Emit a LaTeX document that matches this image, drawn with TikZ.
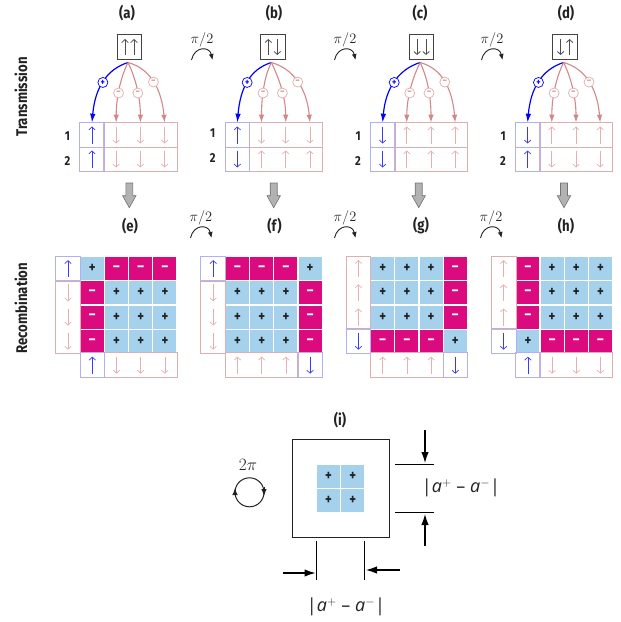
\documentclass[tikz,border=0pt]{standalone}
\usepackage{fontspec}
\setmainfont{Fira Sans}
\newfontfamily\lab[FakeStretch=0.85]{Fira Sans}
\newfontfamily\dimf{Open Sans}
\usetikzlibrary{arrows.meta}
\definecolor{cellblue}{HTML}{A6D1EC}
\definecolor{cellmag}{HTML}{DB0A7E}
\definecolor{redline}{HTML}{DFAEAE}
\definecolor{redarrow}{HTML}{E6B0B0}
\definecolor{redcurve}{HTML}{D28888}
\definecolor{blueline}{HTML}{B0B0F4}
\definecolor{bluearrow}{HTML}{3A3AF5}
\definecolor{ink}{HTML}{222222}
\tikzset{
 x=1pt,y=-1pt,
 cellnode/.style={inner sep=0pt,minimum width=24.3pt,minimum height=24.3pt},
 tilepos/.style={inner sep=0pt,minimum width=23pt,minimum height=23pt,fill=cellblue,text=ink,font=\lab\bfseries\fontsize{15}{15}\selectfont},
 tileneg/.style={inner sep=0pt,minimum width=23pt,minimum height=23pt,fill=cellmag,text=white,font=\lab\bfseries\fontsize{15}{15}\selectfont},
 panel/.style={font=\lab\bfseries\fontsize{15.5}{17}\selectfont,text=ink,inner sep=0pt},
 rowlab/.style={font=\lab\bfseries\fontsize{13}{14}\selectfont,text=ink,inner sep=0pt},
 sidelab/.style={font=\lab\bfseries\fontsize{15.5}{17}\selectfont,text=ink,inner sep=0pt,rotate=90},
 srcbox/.style={draw=ink!85,line width=0.9pt,minimum width=24.5pt,minimum height=24.5pt,inner sep=0pt},
 redbox/.style={draw=redline,line width=0.9pt},
 bluebox/.style={draw=blueline,line width=0.9pt},
 aup/.style={{Straight Barb[length=3pt,width=6.5pt]}-,line width=0.7pt},
 adn/.style={-{Straight Barb[length=3pt,width=6.5pt]},line width=0.7pt},
 redarr/.style={draw=redarrow},
 bluearr/.style={draw=bluearrow},
 blackarr/.style={draw=ink!80},
 bluecurve/.style={draw=blue,line width=1.2pt,-{Latex[length=9pt,width=5.5pt]}},
 redcurv/.style={draw=redcurve,line width=1.1pt,-{Latex[length=8pt,width=5.5pt]}},
 bubred/.style={circle,draw=redline,fill=white,line width=0.7pt,minimum size=10pt,inner sep=0pt,text=redcurve,font=\lab\bfseries\fontsize{9}{9}\selectfont},
 bubblue/.style={circle,draw=blue,fill=white,line width=0.7pt,minimum size=10pt,inner sep=0pt,text=blue,font=\lab\bfseries\fontsize{9.5}{9.5}\selectfont},
 turn/.style={draw=ink,line width=0.9pt,-{Latex[length=6pt,width=5pt]}},
 pilabel/.style={inner sep=0pt,text=ink,font=\fontsize{15}{16}\selectfont},
 grayarrow/.style={draw=black!55,fill=black!30,line width=0.6pt},
 dimline/.style={draw=black,line width=0.8pt},
 dimarrow/.style={draw=black,line width=1.2pt,-{Latex[length=11pt,width=7.5pt]}},
 dimlab/.style={inner sep=0pt,text=ink,font=\dimf\fontsize{18}{20}\selectfont},
}
\newcommand\cellarrow[3]{\draw[#2,#3] ([yshift=8.5pt]#1.center) -- ([yshift=-8.5pt]#1.center);}
% name, x offset, apex/box offset, row label y1, y2, box arrows(2), blue1, red1, blue2
\newcommand\transpanel[9]{%
 \begin{scope}[shift={(#2,0)}]
  \foreach \r in {1,2}\foreach \c in {1,2,3,4}
    \node[cellnode] (#1-\r-\c) at ({92+24.2*(\c-1)},{135+24*(\r-1)}) {};
  \node[rowlab] (#1-l1) at (67.5,#4) {1};
  \node[rowlab] (#1-l2) at (67.5,#5) {2};
  \draw[redbox] (#1-1-2.north west) rectangle (#1-2-4.south east);
  \draw[redbox] (#1-1-2.south west) -- (#1-1-4.south east);
  \draw[bluebox] (#1-1-1.north west) rectangle (#1-2-1.south east);
  \draw[bluebox] (#1-1-1.south west) -- (#1-1-1.south east);
  \cellarrow{#1-1-1}{#7}{bluearr}
  \cellarrow{#1-2-1}{#9}{bluearr}
  \foreach \c in {2,3,4}{\cellarrow{#1-1-\c}{#8}{redarr}}
  \transpaneltwo{#1}{#3}{#6}
 \end{scope}}
\newcommand\transpaneltwo[3]{%
  \begin{scope}[shift={(#2,0)}]
   \node[srcbox] (#1-src) at (129.5,47) {};
   \coordinate (#1-apex) at (128,62.5);
   \transboxarrows{#1}#3
  \end{scope}
  \draw[bluecurve] (#1-apex) .. controls +(-22,7) and +(3,-34) .. node[pos=0.5,bubblue] (#1-b1) {+} (#1-1-1.north);
  \draw[redcurv] (#1-apex) .. controls +(-7,14) and +(0,-26) .. node[pos=0.58,bubred] (#1-b2) {–} (#1-1-2.north);
  \draw[redcurv] (#1-apex) .. controls +(7,14) and +(0,-26) .. node[pos=0.58,bubred] (#1-b3) {–} (#1-1-3.north);
  \draw[redcurv] (#1-apex) .. controls +(22,6) and +(-3,-34) .. node[pos=0.5,bubred] (#1-b4) {–} (#1-1-4.north);
}
\newcommand\transboxarrows[3]{%
  \draw[#2,blackarr,line width=0.8pt] ([xshift=-4.5pt,yshift=8pt]#1-src.center) -- ([xshift=-4.5pt,yshift=-8pt]#1-src.center);
  \draw[#3,blackarr,line width=0.8pt] ([xshift=4.5pt,yshift=8pt]#1-src.center) -- ([xshift=4.5pt,yshift=-8pt]#1-src.center);
}
% name, x offset, blue row, blue column
\newcommand\recomb[4]{%
 \begin{scope}[shift={(#2,0)}]
  \foreach \r in {1,2,3,4}\foreach \c in {1,2,3,4}{
    \ifnum\r=#3 \def\rr{1}\else\def\rr{0}\fi
    \ifnum\c=#4 \def\cc{1}\else\def\cc{0}\fi
    \ifnum\rr=\cc
      \node[tilepos] (#1-\r-\c) at ({92.3+24.2*(\c-1)},{268.6+24.2*(\r-1)}) {+};
    \else
      \node[tileneg] (#1-\r-\c) at ({92.3+24.2*(\c-1)},{268.6+24.2*(\r-1)}) {–};
    \fi
  }
  \foreach \r in {1,2,3,4}{\node[cellnode] (#1-L\r) at (68,{268.6+24.2*(\r-1)}) {};}
  \foreach \c in {1,2,3,4}{\node[cellnode] (#1-B\c) at ({92.3+24.2*(\c-1)},365.2) {};}
 \end{scope}}
\begin{document}
\begin{tikzpicture}
\useasboundingbox (0,0) rectangle (621,622);
% panel labels
\foreach \n/\t/\px/\py in {pa/(a)/127/13,pb/(b)/274/13,pc/(c)/420/13,pd/(d)/566/13,pe/(e)/130/226,pf/(f)/274.5/226,pg/(g)/421/226,ph/(h)/566/226,pi/(i)/340/420}
  \node[panel] (\n) at (\px,\py) {\t};
\node[sidelab] (sideT) at (21,97) {Transmission};
\node[sidelab] (sideR) at (21,308) {Recombination};
% transmission
\transpanel{a}{0}{0}{136}{161}{{aup}{aup}}{aup}{adn}{aup}
\foreach \c in {2,3,4}{\cellarrow{a-2-\c}{adn}{redarr}}
\transpanel{b}{145.3}{-2}{133}{158}{{aup}{adn}}{aup}{adn}{adn}
\foreach \c in {2,3,4}{\cellarrow{b-2-\c}{aup}{redarr}}
\transpanel{c}{290.6}{1.5}{136}{161}{{adn}{adn}}{adn}{aup}{adn}
\foreach \c in {2,3,4}{\cellarrow{c-2-\c}{aup}{redarr}}
\transpanel{d}{435.6}{0}{136}{161}{{adn}{aup}}{adn}{aup}{aup}
\foreach \c in {2,3,4}{\cellarrow{d-2-\c}{adn}{redarr}}
% turning arrows and pi/2 labels
\foreach \n/\x/\y in {t1/202/40,t2/345/40,t3/492/40,t4/201/218,t5/345/218,t6/491/218}{
  \node[pilabel] (\n) at (\x,\y) {$\pi/2$};
  \coordinate (\n-s) at (\x-10.5,\y+20);
  \coordinate (\n-e) at (\x+10.5,\y+20);
  \draw[turn] (\n-s) .. controls +(3,-14) and +(-3,-14) .. (\n-e);
}
% gray arrows
\foreach \n/\x in {g1/129.3,g2/273.7,g3/418.7,g4/564}{
  \coordinate (\n) at (\x,183);
  \draw[grayarrow] (\n) ++(-3.5,0) -- ++(7,0) -- ++(0,12.7) -- ++(3.2,0) -- ++(-6.7,12) -- ++(-6.7,-12) -- ++(3.2,0) -- cycle;
}
% recombination
\recomb{e}{0}{1}{1}
\recomb{f}{145.2}{1}{4}
\recomb{g}{290.4}{4}{4}
\recomb{h}{435.6}{4}{1}
% e
\draw[redbox] (e-L2.north west) rectangle (e-L4.south east);
\draw[bluebox] (e-L1.north west) rectangle (e-L1.south east);
\draw[redbox] (e-B2.north west) rectangle (e-B4.south east);
\draw[bluebox] (e-B1.north west) rectangle (e-B1.south east);
\cellarrow{e-L1}{aup}{bluearr}\cellarrow{e-L2}{adn}{redarr}\cellarrow{e-L3}{adn}{redarr}\cellarrow{e-L4}{adn}{redarr}
\cellarrow{e-B1}{aup}{bluearr}\cellarrow{e-B2}{adn}{redarr}\cellarrow{e-B3}{adn}{redarr}\cellarrow{e-B4}{adn}{redarr}
% f
\draw[redbox] (f-L2.north west) rectangle (f-L4.south east);
\draw[bluebox] (f-L1.north west) rectangle (f-L1.south east);
\draw[redbox] (f-B1.north west) rectangle (f-B3.south east);
\draw[bluebox] (f-B4.north west) rectangle (f-B4.south east);
\cellarrow{f-L1}{aup}{bluearr}\cellarrow{f-L2}{adn}{redarr}\cellarrow{f-L3}{adn}{redarr}\cellarrow{f-L4}{adn}{redarr}
\cellarrow{f-B1}{aup}{redarr}\cellarrow{f-B2}{aup}{redarr}\cellarrow{f-B3}{aup}{redarr}\cellarrow{f-B4}{adn}{bluearr}
% g
\draw[redbox] (g-L1.north west) rectangle (g-L3.south east);
\draw[bluebox] (g-L4.north west) rectangle (g-L4.south east);
\draw[redbox] (g-B1.north west) rectangle (g-B3.south east);
\draw[bluebox] (g-B4.north west) rectangle (g-B4.south east);
\cellarrow{g-L1}{aup}{redarr}\cellarrow{g-L2}{aup}{redarr}\cellarrow{g-L3}{aup}{redarr}\cellarrow{g-L4}{adn}{bluearr}
\cellarrow{g-B1}{aup}{redarr}\cellarrow{g-B2}{aup}{redarr}\cellarrow{g-B3}{aup}{redarr}\cellarrow{g-B4}{adn}{bluearr}
% h
\draw[redbox] (h-L1.north west) rectangle (h-L3.south east);
\draw[bluebox] (h-L4.north west) rectangle (h-L4.south east);
\draw[redbox] (h-B2.north west) rectangle (h-B4.south east);
\draw[bluebox] (h-B1.north west) rectangle (h-B1.south east);
\cellarrow{h-L1}{aup}{redarr}\cellarrow{h-L2}{aup}{redarr}\cellarrow{h-L3}{aup}{redarr}\cellarrow{h-L4}{adn}{bluearr}
\cellarrow{h-B1}{aup}{bluearr}\cellarrow{h-B2}{adn}{redarr}\cellarrow{h-B3}{adn}{redarr}\cellarrow{h-B4}{adn}{redarr}
% panel i
\node[draw=ink,line width=1.1pt,minimum width=97.5pt,minimum height=97.5pt,inner sep=0pt] (ibox) at (341,488.3) {};
\foreach \r in {1,2}\foreach \c in {1,2}
  \node[tilepos] (i-\r-\c) at ({328.5+24.2*(\c-1)},{476.5+24.2*(\r-1)}) {+};
\node[pilabel,font=\fontsize{18}{18}\selectfont] (twopi) at (248,465) {$2\pi$};
\node[circle,draw=ink,line width=1pt,minimum size=29pt,inner sep=0pt] (loop) at (249.5,492.3) {};
\coordinate (loopLa) at (235,497); \coordinate (loopLb) at (235,488);
\coordinate (loopRa) at (264,487); \coordinate (loopRb) at (264,496);
\draw[-{Latex[length=7pt,width=5.5pt]},draw=ink,line width=1pt] (loopLa) -- (loopLb);
\draw[-{Latex[length=7pt,width=5.5pt]},draw=ink,line width=1pt] (loopRa) -- (loopRb);
% dimension lines
\coordinate (hA1) at (395,464); \coordinate (hA2) at (434,464);
\coordinate (hB1) at (395,512.5); \coordinate (hB2) at (434,512.5);
\draw[dimline] (hA1) -- (hA2);
\draw[dimline] (hB1) -- (hB2);
\coordinate (vA1) at (316.5,541); \coordinate (vA2) at (316.5,580);
\coordinate (vB1) at (364.5,541); \coordinate (vB2) at (364.5,580);
\draw[dimline] (vA1) -- (vA2);
\draw[dimline] (vB1) -- (vB2);
\coordinate (dT) at (425,430); \coordinate (dTe) at (425,463);
\coordinate (dU) at (425,546); \coordinate (dUe) at (425,514);
\coordinate (dL) at (283,573); \coordinate (dLe) at (315.5,573);
\coordinate (dR) at (400,570); \coordinate (dRe) at (366,570);
\draw[dimarrow] (dT) -- (dTe);
\draw[dimarrow] (dU) -- (dUe);
\draw[dimarrow] (dL) -- (dLe);
\draw[dimarrow] (dR) -- (dRe);
\node[dimlab] (dimV) at (461,488) {|{\itshape a}$^{+}$ – {\itshape a}$^{-}$|};
\node[dimlab] (dimH) at (346,607) {|{\itshape a}$^{+}$ – {\itshape a}$^{-}$|};
\end{tikzpicture}
\end{document}
